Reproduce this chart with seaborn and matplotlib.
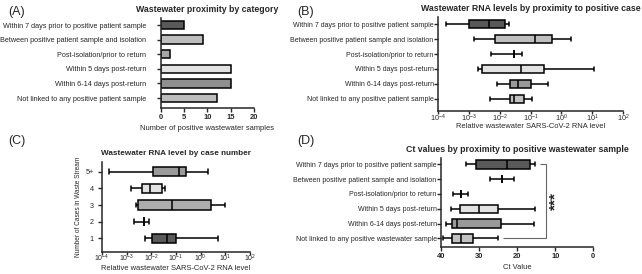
import numpy as np
import pandas as pd
import matplotlib
matplotlib.use("Agg")
import matplotlib.pyplot as plt
import seaborn as sns

# ===== DATA =====
PROX_CATS = [
    "Within 7 days prior to positive patient sample",
    "Between positive patient sample and isolation",
    "Post-isolation/prior to return",
    "Within 5 days post-return",
    "Within 6-14 days post-return",
    "Not linked to any positive patient sample",
]
PROX_COUNTS = [5, 9, 2, 15, 15, 12]

# five-number summaries: min, q1, median, q3, max
RNA_BY_PROX = [
    [0.00018, 0.0010, 0.0045, 0.0148, 0.020],
    [0.00145, 0.0071, 0.14, 0.49, 2.0],
    [0.0054, 0.029, 0.029, 0.029, 0.055],
    [0.0020, 0.0027, 0.048, 0.27, 11.5],
    [0.0079, 0.022, 0.040, 0.105, 0.37],
    [0.0047, 0.021, 0.030, 0.063, 0.11],
]

CASE_CATS = ["5+", "4", "3", "2", "1"]
RNA_BY_CASES = [
    [0.00019, 0.012, 0.138, 0.26, 1.9],
    [0.00155, 0.0041, 0.0089, 0.028, 0.035],
    [0.0025, 0.0030, 0.066, 2.6, 10.0],
    [0.0019, 0.0050, 0.0050, 0.0050, 0.0083],
    [0.0055, 0.011, 0.042, 0.10, 5.2],
]

CT_CATS = [
    "Within 7 days prior to positive patient sample",
    "Between positive patient sample and isolation",
    "Post-isolation/prior to return",
    "Within 5 days post-return",
    "Within 6-14 days post-return",
    "Not linked to any positive wastewater sample",
]
CT_BY_PROX = [
    [33.4, 30.8, 22.6, 16.6, 15.3],
    [27.1, 23.9, 23.9, 23.9, 20.7],
    [36.8, 34.8, 34.8, 34.8, 33.0],
    [37.4, 35.0, 29.9, 25.0, 15.2],
    [38.8, 37.0, 35.9, 24.2, 15.5],
    [39.4, 37.0, 34.8, 31.7, 25.0],
]

BAR_COLORS = ["#595959", "#bdbdbd", "#a6a6a6", "#e2e2e2", "#8f8f8f", "#bdbdbd"]
BOX_COLORS = ["#595959", "#bfbfbf", "#ffffff", "#e2e2e2", "#999999", "#c2c2c2"]
CASE_COLORS = ["#9a9a9a", "#e2e2e2", "#adadad", "#ffffff", "#5a5a5a"]

# ===== STYLE =====
sns.set_style("ticks")
plt.rcParams["font.family"] = ["Liberation Sans", "DejaVu Sans"]
plt.rcParams["axes.linewidth"] = 1.1
plt.rcParams["xtick.major.width"] = 1.0
plt.rcParams["ytick.major.width"] = 1.0
plt.rcParams["xtick.major.size"] = 2.8
plt.rcParams["ytick.major.size"] = 2.8
plt.rcParams["xtick.major.pad"] = 1.5
plt.rcParams["ytick.major.pad"] = 1.0

W, H = 642, 274
TICK_FS = 5.2
TITLE_FS = 6.3
LABEL_FS = 5.4


def px_axes(fig, left, top, right, bottom):
    return fig.add_axes([left / W, 1 - bottom / H, (right - left) / W, (bottom - top) / H])


def long_frame(cats, summaries):
    rows = []
    for c, vals in zip(cats, summaries):
        for v in vals:
            rows.append({"cat": c, "value": v})
    return pd.DataFrame(rows)


def box_panel(ax, cats, summaries, colors, log):
    df = long_frame(cats, summaries)
    sns.boxplot(
        data=df, x="value", y="cat", hue="cat", order=cats, hue_order=cats,
        palette=dict(zip(cats, colors)), orient="h", whis=(0, 100),
        width=0.56, linewidth=1.1, linecolor="black", legend=False,
        log_scale=log, ax=ax, dodge=False,
    )


def log_axis(ax):
    ax.set_xlim(1e-4, 1e2)
    ax.set_xticks([10.0 ** k for k in range(-4, 3)])
    ax.xaxis.set_minor_locator(matplotlib.ticker.NullLocator())


def finish(ax, ypad, xpad=1.5, xfs=TICK_FS + 0.2, yfs=TICK_FS, xlen=2.8):
    sns.despine(ax=ax)
    ax.set_ylabel("")
    ax.tick_params(axis="y", labelsize=yfs, pad=ypad)
    ax.tick_params(axis="x", labelsize=xfs, pad=xpad, length=xlen)


def place_xlabel(ax, text, y_px, ax_bottom, ax_height):
    ax.set_xlabel(text, fontsize=LABEL_FS)
    ax.xaxis.label.set_va("center")
    ax.xaxis.set_label_coords(0.5, -(y_px - ax_bottom) / ax_height)


fig = plt.figure(figsize=(W / 100, H / 100), dpi=100)

# ---- (A) ----
axA = px_axes(fig, 161, 17.7, 254, 108.3)
dfA = pd.DataFrame({"cat": PROX_CATS, "n": PROX_COUNTS})
sns.barplot(data=dfA, x="n", y="cat", hue="cat", order=PROX_CATS,
            palette=dict(zip(PROX_CATS, BAR_COLORS)), orient="h", width=0.58,
            edgecolor="black", linewidth=1.1, legend=False, ax=axA)
axA.set_xlim(0, 20)
axA.set_xticks([0, 5, 10, 15, 20])
axA.set_ylim(5.7, -0.5)
finish(axA, ypad=8)
for t in axA.get_xticklabels():
    t.set_fontweight("bold")
place_xlabel(axA, "Number of positive wastewater samples", 128, 108.3, 90.6)
axA.set_title("Wastewater proximity by category", fontsize=TITLE_FS, fontweight="bold", pad=4)

# ---- (B) ----
axB = px_axes(fig, 438, 16.85, 623, 111)
box_panel(axB, PROX_CATS, RNA_BY_PROX, BOX_COLORS, True)
log_axis(axB)
axB.set_ylim(5.82, -0.5)
finish(axB, ypad=0.3, xpad=-1.2, xfs=TICK_FS, yfs=5.0, xlen=2.2)
place_xlabel(axB, "Relative wastewater SARS-CoV-2 RNA level", 126.5, 111, 94.15)
axB.set_title("Wastewater RNA levels by proximity to positive case", fontsize=TITLE_FS,
              fontweight="bold", pad=4)

# ---- (C) ----
axC = px_axes(fig, 102, 162, 250, 251.7)
box_panel(axC, CASE_CATS, RNA_BY_CASES, CASE_COLORS, True)
log_axis(axC)
axC.set_ylim(4.8, -0.58)
finish(axC, ypad=3, xpad=-1.2, xfs=TICK_FS - 0.2, xlen=2.2)
axC.set_ylabel("Number of Cases in Waste Stream", fontsize=4.7, labelpad=3)
place_xlabel(axC, "Relative wastewater SARS-CoV-2 RNA level", 268.5, 251.7, 89.7)
axC.set_title("Wastewater RNA level by case number", fontsize=5.9, fontweight="bold", pad=5)

# ---- (D) ----
axD = px_axes(fig, 441, 157.7, 593.3, 247.3)
box_panel(axD, CT_CATS, CT_BY_PROX, BOX_COLORS, False)
axD.set_xlim(40, 0)
axD.set_xticks([40, 30, 20, 10, 0])
axD.set_ylim(5.6, -0.45)
finish(axD, ypad=0.3, yfs=5.0)
for t in axD.get_xticklabels():
    t.set_fontweight("bold")
place_xlabel(axD, "Ct Value", 267.5, 247.3, 89.6)
axD.set_title("Ct values by proximity to positive wastewater sample", fontsize=TITLE_FS,
              fontweight="bold", pad=4)

# significance bracket between first and last group
top_max = CT_BY_PROX[0][-1]
bot_max = CT_BY_PROX[-1][-1]
x_far = min(top_max, bot_max) - 2.95
axD.plot([top_max - 1.3, x_far, x_far, bot_max - 1.4], [0, 0, len(CT_CATS) - 1, len(CT_CATS) - 1],
         color="#666666", lw=0.8, solid_capstyle="butt")
axD.text(x_far - 2.4, (len(CT_CATS) - 1) / 2, "***", rotation=90, ha="center", va="center",
         fontsize=11, fontweight="bold")

# panel labels
for lbl, x, y in [("(A)", 8, 12), ("(B)", 297, 12), ("(C)", 8, 141), ("(D)", 297, 141)]:
    fig.text(x / W, 1 - y / H, lbl, fontsize=9, ha="left", va="center")

fig.savefig("out.png", dpi=100)
